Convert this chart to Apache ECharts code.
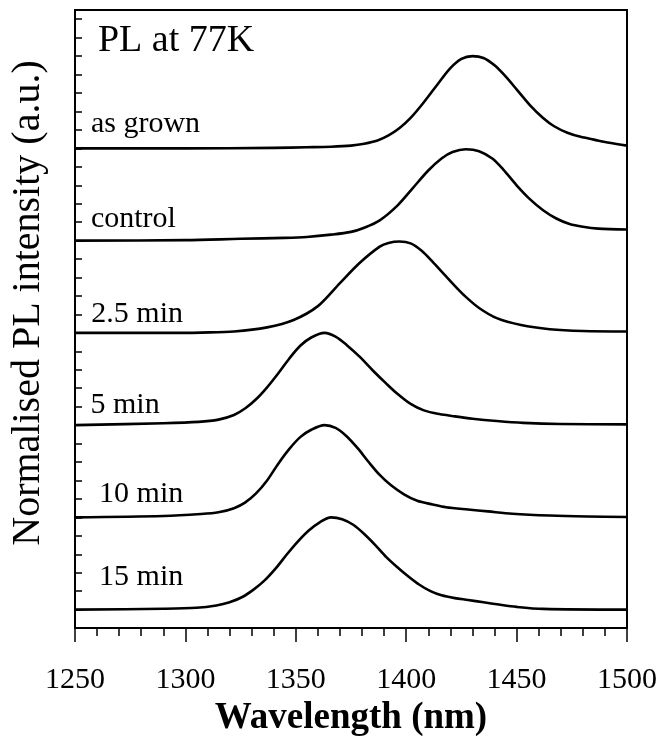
<!DOCTYPE html>
<html>
<head>
  <meta charset="utf-8" />
  <script src="https://cdn.jsdelivr.net/npm/echarts@6/dist/echarts.min.js"></script>
  <style>
    html, body { margin: 0; padding: 0; background: #fff; }
    #chart { width: 661px; height: 742px; }
  </style>
</head>
<body>
  <div id="chart"></div>
  <script>
    // normalised PL spectra (wavelength nm, intensity)
    const asGrownWl = [1250, 1300, 1340, 1355, 1366, 1375, 1381, 1387, 1392, 1397, 1402, 1408, 1415, 1420, 1425, 1430, 1435, 1440, 1445, 1450, 1456, 1462, 1467, 1473, 1479, 1485, 1492, 1500];
    const asGrownPl = [0, 0, 0.005, 0.012, 0.018, 0.03, 0.05, 0.085, 0.14, 0.22, 0.33, 0.5, 0.72, 0.87, 0.97, 1.0, 0.98, 0.9, 0.78, 0.64, 0.47, 0.33, 0.24, 0.17, 0.125, 0.095, 0.06, 0.03];

    const controlWl = [1250, 1300, 1325, 1345, 1355, 1366, 1375, 1381, 1388, 1396, 1403, 1410, 1416, 1421, 1427, 1433, 1439, 1444, 1450, 1456, 1462, 1468, 1474, 1480, 1487, 1500];
    const controlPl = [0, 0.005, 0.02, 0.03, 0.04, 0.065, 0.095, 0.14, 0.22, 0.38, 0.57, 0.76, 0.89, 0.96, 0.99, 0.97, 0.89, 0.77, 0.6, 0.45, 0.33, 0.24, 0.18, 0.15, 0.13, 0.12];

    const min25Wl = [1250, 1300, 1307, 1322, 1337, 1349, 1360, 1370, 1379, 1388, 1392, 1397, 1402, 1407, 1412, 1417, 1422, 1427, 1433, 1441, 1452, 1465, 1480, 1500];
    const min25Pl = [0, 0, 0.003, 0.015, 0.06, 0.14, 0.29, 0.54, 0.76, 0.935, 0.975, 0.99, 0.97, 0.89, 0.77, 0.64, 0.51, 0.39, 0.27, 0.16, 0.085, 0.04, 0.02, 0.015];

    const min5Wl = [1250, 1290, 1306, 1315, 1322, 1327, 1332, 1337, 1342, 1347, 1352, 1357, 1363, 1368, 1373, 1379, 1385, 1391, 1396, 1402, 1408, 1415, 1422, 1430, 1441, 1453, 1470, 1500];
    const min5Pl = [0, 0.02, 0.035, 0.06, 0.11, 0.18, 0.28, 0.41, 0.56, 0.72, 0.86, 0.95, 1.0, 0.96, 0.87, 0.74, 0.59, 0.45, 0.34, 0.23, 0.16, 0.12, 0.095, 0.07, 0.045, 0.025, 0.012, 0.008];

    const min10Wl = [1250, 1290, 1307, 1315, 1322, 1327, 1332, 1337, 1342, 1347, 1352, 1357, 1363, 1368, 1373, 1378, 1383, 1388, 1393, 1399, 1405, 1412, 1418, 1428, 1437, 1448, 1465, 1482, 1500];
    const min10Pl = [0, 0.015, 0.036, 0.055, 0.1, 0.16, 0.26, 0.4, 0.58, 0.74, 0.87, 0.95, 1.0, 0.97, 0.88, 0.75, 0.6, 0.46, 0.35, 0.25, 0.18, 0.14, 0.11, 0.085, 0.065, 0.04, 0.02, 0.01, 0.005];

    const min15Wl = [1250, 1290, 1305, 1314, 1320, 1326, 1331, 1336, 1341, 1346, 1351, 1356, 1361, 1366, 1371, 1376, 1381, 1386, 1391, 1396, 1401, 1406, 1411, 1416, 1422, 1428, 1435, 1442, 1450, 1462, 1500];
    const min15Pl = [0, 0.01, 0.02, 0.045, 0.08, 0.14, 0.22, 0.32, 0.45, 0.6, 0.74, 0.86, 0.95, 1.0, 0.98, 0.92, 0.82, 0.7, 0.57, 0.46, 0.36, 0.27, 0.2, 0.155, 0.125, 0.105, 0.08, 0.055, 0.03, 0.008, 0];

    const curveNames = ['as grown', 'control', '2.5 min', '5 min', '10 min', '15 min'];
    const curveOffsets = [5.2, 4.2, 3.2, 2.2, 1.2, 0.2];
    const curves = [
      [asGrownWl, asGrownPl],
      [controlWl, controlPl],
      [min25Wl, min25Pl],
      [min5Wl, min5Pl],
      [min10Wl, min10Pl],
      [min15Wl, min15Pl]
    ];

    const xTicks = [1250, 1300, 1350, 1400, 1450, 1500];

    const serif = 'Liberation Serif';

    const lineSeries = curves.map(([wl, pl], i) => ({
      name: curveNames[i],
      type: 'line',
      data: wl.map((w, k) => [w, pl[k] + curveOffsets[i]]),
      showSymbol: false,
      symbol: 'none',
      smooth: 0.3,
      lineStyle: { color: '#000', width: 2.6, join: 'round' },
      silent: true
    }));

    // text labels sit in data space next to each trace
    const labelItems = [
      { value: [1257.2, 5.468], name: 'as grown' },
      { value: [1257.2, 4.43], name: 'control' },
      { value: [1257.4, 3.404], name: '2.5 min' },
      { value: [1257.0, 2.42], name: '5 min' },
      { value: [1260.9, 1.448], name: '10 min' },
      { value: [1260.9, 0.551], name: '15 min' },
      { value: [1260.4, 6.365], name: 'PL at 77K', label: { fontSize: 38 } }
    ];

    const chart = echarts.init(document.getElementById('chart'), null, { renderer: 'canvas' });

    const option = {
      animation: false,
      backgroundColor: '#fff',
      grid: {
        left: 75,
        right: 34,
        top: 10,
        bottom: 112,
        show: true,
        borderColor: '#000',
        borderWidth: 2,
        backgroundColor: 'transparent'
      },
      xAxis: {
        type: 'value',
        min: 1250,
        max: 1500,
        interval: 50,
        name: 'Wavelength (nm)',
        nameLocation: 'middle',
        nameGap: 70,
        nameTextStyle: { fontFamily: serif, fontSize: 37, fontWeight: 'bold', color: '#000' },
        axisLine: { onZero: false, lineStyle: { color: '#000', width: 2 } },
        axisTick: { inside: false, length: 14, lineStyle: { color: '#000', width: 1.5 } },
        minorTick: { show: true, splitNumber: 5, length: 8, lineStyle: { color: '#000', width: 1.5 } },
        axisLabel: {
          fontFamily: serif,
          fontSize: 30,
          color: '#000',
          margin: 37,
          customValues: xTicks,
          formatter: v => String(v)
        },
        splitLine: { show: false },
        minorSplitLine: { show: false }
      },
      yAxis: {
        type: 'value',
        min: 0,
        max: 6.7,
        interval: 0.2,
        axisLine: { onZero: false, lineStyle: { color: '#000', width: 2 } },
        axisTick: { inside: true, length: 7, lineStyle: { color: '#000', width: 1.5 } },
        axisLabel: { show: false },
        splitLine: { show: false }
      },
      graphic: [{
        type: 'text',
        x: 28,
        y: 303,
        rotation: Math.PI / 2,
        style: {
          text: 'Normalised PL intensity (a.u.)',
          fontFamily: serif,
          fontSize: 40,
          fill: '#000',
          align: 'center',
          verticalAlign: 'middle'
        }
      }],
      series: [
        ...lineSeries,
        {
          name: 'labels',
          type: 'scatter',
          symbolSize: 0,
          silent: true,
          itemStyle: { opacity: 1 },
          data: labelItems,
          label: {
            show: true,
            position: 'right',
            distance: 0,
            formatter: p => p.name,
            fontFamily: serif,
            fontSize: 30,
            color: '#000',
            opacity: 1
          }
        }
      ]
    };

    chart.setOption(option);
  </script>
</body>
</html>
